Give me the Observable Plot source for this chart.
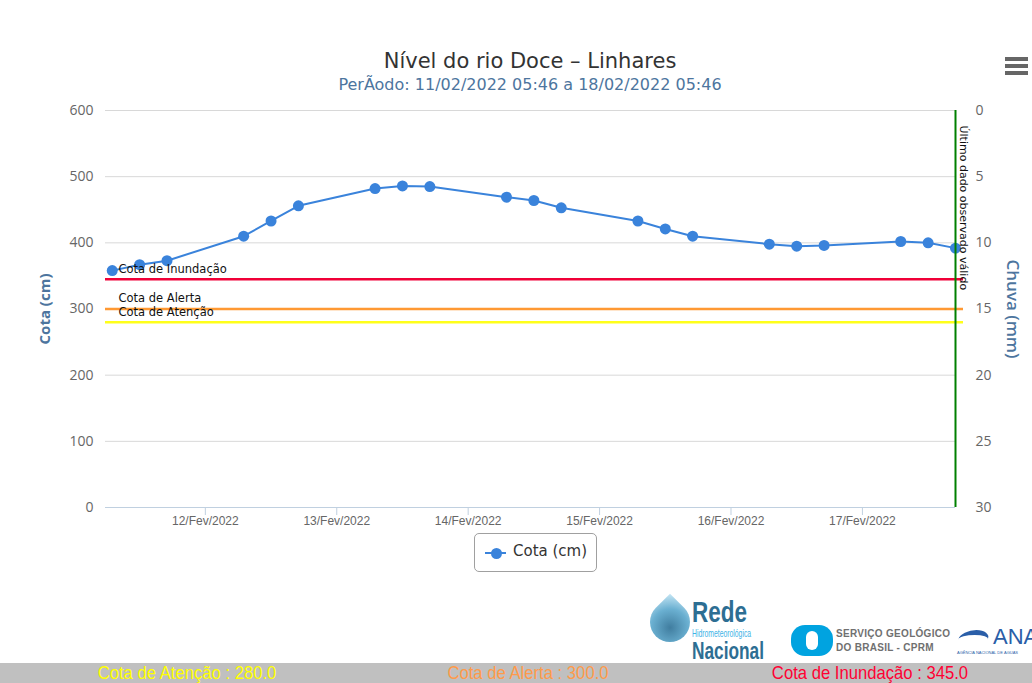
<!DOCTYPE html>
<html>
<head>
<meta charset="utf-8">
<script src="https://cdn.jsdelivr.net/npm/d3@7"></script>
<script src="https://cdn.jsdelivr.net/npm/@observablehq/plot@0.6"></script>
<style>
  html, body { margin: 0; padding: 0; background: #fff; }
  #page { position: relative; width: 1032px; height: 683px; overflow: hidden; }
  .abs { position: absolute; white-space: nowrap; }
  #title { left: 530px; top: 49px; transform: translateX(-50%); font-family: "DejaVu Sans", sans-serif; font-size: 21px; line-height: 1.2; color: #333; }
  #subtitle { left: 530px; top: 75px; transform: translateX(-50%); font-family: "DejaVu Sans", sans-serif; font-size: 16px; line-height: 1.2; color: #4d759e; }
  #chart { left: 0; top: 100px; }
  .bar { left: 1005px; width: 23px; height: 3.5px; background: #666; }
  #legend { left: 474px; top: 533px; width: 121px; height: 37px; border: 1px solid #a0a0a0; border-radius: 5px; }
  #legline { left: 10px; top: 18px; width: 21px; height: 2px; background: #3a83db; }
  #legdot { left: 15.5px; top: 13.5px; width: 11px; height: 11px; border-radius: 50%; background: #3a83db; }
  #legtext { left: 38px; top: 8px; font-family: "DejaVu Sans", sans-serif; font-size: 15px; color: #333; }
  #footer { left: 0; top: 663px; width: 1032px; height: 20px; background: #c0c0c0; }
  .ft { top: 0px; font-family: "Liberation Sans", Arial, sans-serif; font-size: 18.5px; line-height: 20px; transform: translateX(-50%) scaleX(0.9); transform-origin: center; }
  .logo { font-family: "Liberation Sans", Arial, sans-serif; line-height: 1; }
</style>
</head>
<body>
<div id="page">
  <div id="title" class="abs">Nível do rio Doce – Linhares</div>
  <div id="subtitle" class="abs">PerÃodo: 11/02/2022 05:46 a 18/02/2022 05:46</div>
  <div class="abs bar" style="top:57px"></div>
  <div class="abs bar" style="top:64px"></div>
  <div class="abs bar" style="top:71px"></div>
  <div id="chart" class="abs"></div>
  <div id="legend" class="abs">
    <div id="legline" class="abs"></div>
    <div id="legdot" class="abs"></div>
    <div id="legtext" class="abs">Cota (cm)</div>
  </div>
  <!-- logos -->
  <div class="abs" style="left:650px;top:602px;width:40px;height:40px;border-radius:0 50% 50% 50%;transform:rotate(45deg);background:radial-gradient(circle at 60% 60%, #2b6f95 0%, #5aa7cc 55%, #bfe3f3 100%);opacity:0.9"></div>
  <div class="abs logo" style="left:692px;top:597px;font-size:30px;font-weight:bold;color:#2d6e93;transform:scaleX(0.75);transform-origin:left">Rede</div>
  <div class="abs logo" style="left:692px;top:628px;font-size:11px;color:#3fb3e6;transform:scaleX(0.62);transform-origin:left">Hidrometeorológica</div>
  <div class="abs logo" style="left:692px;top:639px;font-size:24px;font-weight:bold;color:#2d6e93;transform:scaleX(0.72);transform-origin:left">Nacional</div>
  <div class="abs" style="left:791px;top:625px;width:42px;height:31px;background:#00a3e0;border-radius:14px"></div>
  <div class="abs" style="left:806px;top:631px;width:12px;height:19px;background:#fff;border-radius:6px"></div>
  <div class="abs logo" style="left:836px;top:629px;font-size:10px;font-weight:bold;color:#707070;letter-spacing:0.3px">SERVIÇO GEOLÓGICO</div>
  <div class="abs logo" style="left:836px;top:643px;font-size:10px;font-weight:bold;color:#707070;letter-spacing:0.3px">DO BRASIL - CPRM</div>
  <div class="abs" style="left:958px;top:630px;width:30px;height:14px;border-top:5px solid #2a5ea8;border-radius:50% 50% 0 0;transform:skewX(-20deg)"></div>
  <div class="abs logo" style="left:993px;top:626px;font-size:22px;color:#2a5ea8">ANA</div>
  <div class="abs logo" style="left:957px;top:651px;font-size:4px;color:#2a5ea8">AGÊNCIA NACIONAL DE ÁGUAS</div>
  <div id="footer" class="abs">
    <div class="abs ft" style="left:187px;color:#ffff00">Cota de Atenção : 280.0</div>
    <div class="abs ft" style="left:528px;color:#ff9a4a">Cota de Alerta : 300.0</div>
    <div class="abs ft" style="left:870px;color:#ff0033">Cota de Inundação : 345.0</div>
  </div>
</div>
<script>
// ---- data ----
const times = [
  "2022-02-11T07:00Z", "2022-02-11T12:00Z", "2022-02-11T17:00Z",
  "2022-02-12T07:00Z", "2022-02-12T12:00Z", "2022-02-12T17:00Z",
  "2022-02-13T07:00Z", "2022-02-13T12:00Z", "2022-02-13T17:00Z",
  "2022-02-14T07:00Z", "2022-02-14T12:00Z", "2022-02-14T17:00Z",
  "2022-02-15T07:00Z", "2022-02-15T12:00Z", "2022-02-15T17:00Z",
  "2022-02-16T07:00Z", "2022-02-16T12:00Z", "2022-02-16T17:00Z",
  "2022-02-17T07:00Z", "2022-02-17T12:00Z", "2022-02-17T17:00Z"
];
const cota = [358, 367, 373, 410, 433, 456, 482, 486, 485, 469, 464, 453, 433, 421, 410, 398, 395, 396, 402, 400, 392];
const periodStart = "2022-02-11T05:46Z";
const lastValid = "2022-02-17T17:00Z";
const dayTicks = ["2022-02-12T00:00Z", "2022-02-13T00:00Z", "2022-02-14T00:00Z", "2022-02-15T00:00Z", "2022-02-16T00:00Z", "2022-02-17T00:00Z"];
const cotaTicks = [0, 100, 200, 300, 400, 500, 600];
const chuvaTicks = [0, 5, 10, 15, 20, 25, 30];
const thresholdNames = ["Cota de Inundação", "Cota de Alerta", "Cota de Atenção"];
const thresholdValues = [345, 300, 280];
const thresholdColors = ["#f00038", "#ff9933", "#ffff1a"];
const thresholdLabelDy = [-10, -11, -10];
const months = ["Jan", "Fev", "Mar", "Abr", "Mai", "Jun", "Jul", "Ago", "Set", "Out", "Nov", "Dez"];

// ---- derived tables ----
const data = times.map((t, i) => ({date: new Date(t), cota: cota[i]}));
const start = new Date(periodStart);
const last = new Date(lastValid);
const thresholds = thresholdNames.map((n, i) => ({name: n, value: thresholdValues[i], color: thresholdColors[i], dy: thresholdLabelDy[i]}));
const chuvaToCota = c => 600 - c * 20;
const pad = n => String(n).padStart(2, "0");
const fmtDay = d => `${pad(d.getUTCDate())}/${months[d.getUTCMonth()]}/${d.getUTCFullYear()}`;

const BLUE = "#3a83db";
const axisTitle = "#4d759e";
const sans = "Open Sans, DejaVu Sans, sans-serif";

const plot = Plot.plot({
  width: 1032,
  height: 430,
  marginLeft: 105,
  marginRight: 77,
  marginTop: 10,
  marginBottom: 23,
  style: {fontFamily: sans, background: "transparent"},
  x: {type: "utc", domain: [start, last]},
  y: {domain: [0, 600]},
  marks: [
    Plot.gridY(cotaTicks, {stroke: "#d8d8d8", strokeOpacity: 1}),
    ...thresholds.map(t => Plot.ruleY([t.value], {stroke: t.color, strokeWidth: 2.5, insetRight: -8})),
    Plot.ruleY([0], {stroke: "#c0d0e0", strokeWidth: 1}),
    Plot.axisX(dayTicks.map(d => new Date(d)), {
      tickSize: 8, tickPadding: 1, stroke: "#c0d0e0", strokeOpacity: 1,
      tickFormat: fmtDay, label: null, fill: "#666", fontSize: 12,
      fontFamily: "Liberation Sans, Arial, sans-serif"
    }),
    Plot.axisY(cotaTicks, {tickSize: 0, tickPadding: 12, label: null, fill: "#666", fontSize: 14}),
    Plot.axisY(chuvaTicks.map(chuvaToCota), {
      anchor: "right", tickSize: 0, tickPadding: 20, label: null, fill: "#666", fontSize: 14,
      tickFormat: v => String((600 - v) / 20)
    }),
    Plot.line(data, {x: "date", y: "cota", stroke: BLUE, strokeWidth: 2}),
    Plot.dot(data, {x: "date", y: "cota", r: 5.5, fill: BLUE}),
    ...thresholds.map(t => Plot.text([t], {
      x: () => start, y: "value", text: "name", dx: 13, dy: t.dy,
      textAnchor: "start", fill: "#111", fontSize: 11.5, fontFamily: "DejaVu Sans, sans-serif"
    })),
    Plot.ruleX([last], {stroke: "#008000", strokeWidth: 2}),
    Plot.text(["Último dado observado válido"], {
      x: () => last, y: () => 600, rotate: 90, textAnchor: "start", dx: 8, dy: 15,
      fill: "#111", fontSize: 11, fontFamily: "DejaVu Sans, sans-serif"
    }),
    Plot.text(["Cota (cm)"], {frameAnchor: "left", rotate: -90, textAnchor: "middle", dx: -60, fill: axisTitle, fontWeight: "bold", fontSize: 15}),
    Plot.text(["Chuva (mm)"], {frameAnchor: "right", rotate: 90, textAnchor: "middle", dx: 57, fill: axisTitle, fontWeight: "600", fontSize: 17})
  ]
});
document.getElementById("chart").appendChild(plot);
</script>
</body>
</html>
